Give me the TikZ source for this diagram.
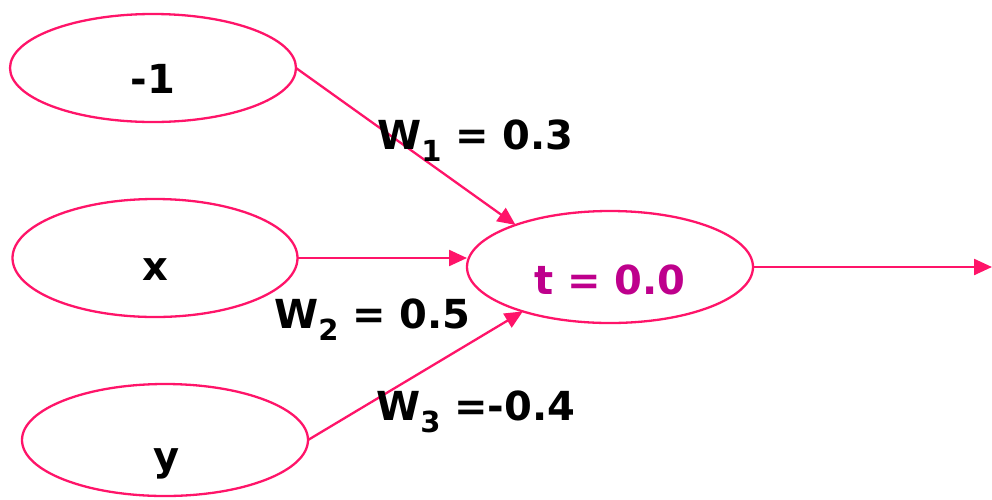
\documentclass[tikz,border=0pt]{standalone}
\usepackage{fontspec}
\setmainfont{DejaVu Sans}
\usetikzlibrary{arrows.meta,shapes.geometric}
\definecolor{linepink}{RGB}{255,20,105}
\definecolor{tpurple}{RGB}{190,0,140}
\begin{document}
\begin{tikzpicture}[x=1pt,y=-1pt,
  ell/.style={draw=linepink,line width=2.3pt,ellipse,inner sep=0pt,outer sep=0pt},
  lbl/.style={inner sep=0pt,font=\fontsize{40}{47}\selectfont\bfseries},
  conn/.style={draw=linepink,line width=2.3pt,-{Triangle[length=18pt,width=16pt]}}]
\useasboundingbox (0,0) rectangle (992,499);
\node[ell,minimum width=286pt,minimum height=108pt] (n1) at (153,68) {};
\node[ell,minimum width=285pt,minimum height=118pt] (nx) at (155,258) {};
\node[ell,minimum width=286pt,minimum height=112pt] (ny) at (165,440) {};
\node[ell,minimum width=286pt,minimum height=112pt] (nt) at (610,267) {};
\coordinate (out) at (992,267);
\node[lbl,anchor=base] (l1) at (153,93) {-1};
\node[lbl,anchor=base] (lx) at (155,280) {x};
\node[lbl,anchor=base] (ly) at (167,470) {y};
\node[lbl,anchor=base,text=tpurple] (lt) at (610,294) {t = 0.0};
\draw[conn] (n1.east) -- (nt.156);
\draw[conn] (nx.east) -- (nx.east -| nt.west);
\draw[conn] (ny.east) -- (nt.207);
\draw[conn] (nt.east) -- (out);
\node[lbl,anchor=base west] (w1) at (377,149) {W\raisebox{-12pt}{\fontsize{29}{31}\selectfont 1} = 0.3};
\node[lbl,anchor=base west] (w2) at (274,328) {W\raisebox{-12pt}{\fontsize{29}{31}\selectfont 2} = 0.5};
\node[lbl,anchor=base west] (w3) at (376,420) {W\raisebox{-12pt}{\fontsize{29}{31}\selectfont 3} =-0.4};
\end{tikzpicture}
\end{document}
